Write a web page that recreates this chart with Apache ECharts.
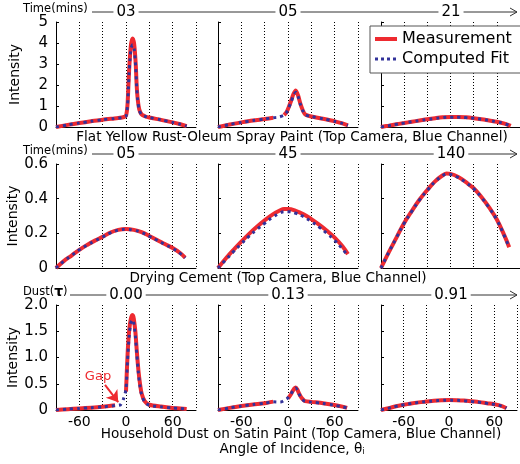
<!DOCTYPE html>
<html><head><meta charset="utf-8">
<script src="https://cdn.jsdelivr.net/npm/echarts@6/dist/echarts.min.js"></script>
<style>html,body{margin:0;padding:0;background:#fff}#c{width:520px;height:464px}</style>
</head><body><div id="c"></div>
<script>
// ---------- DATA ----------
// Row 1: Flat Yellow Rust-Oleum Spray Paint, time 03 / 05 / 21 mins
const angSpray03 = [-90,-75,-60,-45,-30,-15,-5,0,2,3,4,5,6.5,8.5,10.5,12.5,13.7,15,17,20,25,30,45,60,70,78];
const measSpray03 = [0,0.1,0.19,0.27,0.35,0.41,0.45,0.55,1.1,1.9,2.7,3.3,3.95,4.22,3.95,3.0,2.0,1.35,0.85,0.6,0.5,0.45,0.34,0.22,0.13,0.04];
const fitSpray03 = [0,0.1,0.19,0.27,0.35,0.41,0.45,0.52,1.05,1.8,2.6,3.15,3.75,3.92,3.7,2.85,1.95,1.3,0.82,0.58,0.5,0.45,0.34,0.22,0.13,0.04];

const angSpray05 = [-90,-75,-60,-45,-30,-19,-13,-5,-2,1,4,7,10,13,16,19,22,30,45,60,70,77];
const measSpray05 = [0,0.12,0.22,0.31,0.38,0.44,null,0.57,0.7,0.95,1.25,1.57,1.74,1.5,1.1,0.8,0.6,0.5,0.39,0.27,0.17,0.08];
const fitSpray05 = [0,0.12,0.22,0.31,0.38,0.44,0.46,0.56,0.68,0.92,1.2,1.5,1.66,1.45,1.07,0.78,0.59,0.5,0.39,0.27,0.17,0.08];

const angSpray21 = [-90,-80,-70,-60,-50,-40,-30,-20,-10,0,10,20,30,40,50,60,70,78];
const measSpray21 = [0,0.065,0.13,0.19,0.25,0.31,0.37,0.42,0.46,0.48,0.48,0.46,0.42,0.37,0.31,0.25,0.16,0.05];
const fitSpray21 = [0,0.065,0.13,0.19,0.25,0.31,0.36,0.41,0.45,0.47,0.47,0.45,0.42,0.37,0.31,0.25,0.16,0.05];

// Row 2: Drying Cement, time 05 / 45 / 140 mins
const angCement05 = [-90,-80,-70,-60,-50,-40,-30,-20,-10,0,10,20,30,40,50,60,70,76];
const measCement05 = [0,0.04,0.072,0.105,0.133,0.158,0.18,0.205,0.22,0.225,0.22,0.207,0.185,0.162,0.138,0.115,0.085,0.06];
const fitCement05 = [0,0.04,0.072,0.105,0.132,0.157,0.179,0.203,0.218,0.223,0.218,0.205,0.183,0.16,0.136,0.113,0.083,0.058];

const angCement45 = [-90,-80,-70,-60,-50,-40,-30,-20,-10,-5,0,10,20,30,40,50,60,70,77];
const measCement45 = [0,0.055,0.105,0.152,0.197,0.238,0.275,0.308,0.333,0.34,0.34,0.33,0.31,0.282,0.25,0.215,0.175,0.125,0.08];
const fitCement45 = [0,0.047,0.095,0.14,0.184,0.223,0.258,0.292,0.318,0.325,0.325,0.316,0.296,0.268,0.236,0.2,0.16,0.11,0.07];

const angCement140 = [-90,-80,-70,-60,-50,-40,-30,-20,-10,-5,0,10,20,30,40,50,60,70,76];
const measCement140 = [0,0.09,0.175,0.26,0.33,0.395,0.45,0.5,0.535,0.545,0.543,0.525,0.495,0.46,0.41,0.35,0.28,0.185,0.12];
const fitCement140 = [0,0.09,0.175,0.258,0.328,0.393,0.448,0.498,0.533,0.542,0.54,0.522,0.493,0.458,0.408,0.348,0.278,0.183,0.118];

// Row 3: Household Dust on Satin Paint, dust tau 0.00 / 0.13 / 0.91
const angDust000 = [-90,-75,-60,-45,-30,-14,-7,-3,0,2,4,6,8,9,10,12,14,16,18,20,24,30,45,60,70,78];
const measDust000 = [0,0.015,0.03,0.045,0.06,0.09,null,null,0.35,1.05,1.5,1.72,1.81,1.8,1.74,1.5,1.1,0.75,0.5,0.32,0.17,0.1,0.065,0.04,0.03,0.02];
const fitDust000 = [0,0.015,0.03,0.045,0.06,0.085,0.1,0.22,0.4,0.95,1.4,1.65,1.72,1.71,1.66,1.42,1.05,0.7,0.45,0.3,0.15,0.09,0.06,0.04,0.03,0.02];

const angDust013 = [-90,-75,-60,-45,-30,-19,-10,-3,0,3,6,8,10,12,14,17,20,22,30,45,58,70,76];
const measDust013 = [0,0.04,0.075,0.105,0.13,0.16,null,null,0.22,0.28,0.36,0.41,0.43,0.39,0.32,0.24,0.19,0.17,0.155,0.13,0.1,0.065,0.04];
const fitDust013 = [0,0.04,0.075,0.105,0.13,0.155,0.15,0.2,0.23,0.29,0.36,0.4,0.42,0.38,0.31,0.23,0.18,0.165,0.15,0.125,0.095,0.06,0.04];

const angDust091 = [-90,-80,-70,-60,-50,-40,-30,-20,-10,0,10,20,30,40,50,60,70,76];
const measDust091 = [0,0.035,0.07,0.1,0.125,0.145,0.16,0.175,0.185,0.19,0.188,0.18,0.165,0.15,0.13,0.11,0.075,0.035];
const fitDust091 = [0,0.035,0.07,0.1,0.124,0.144,0.159,0.173,0.183,0.188,0.186,0.178,0.163,0.148,0.128,0.108,0.073,0.035];

// Tick labels
const yTickLabelsSpray = ['0','1','2','3','4','5'];
const yTickLabelsCement = ['0','0.2','0.4','0.6'];
const yTickLabelsDust = ['0','0.5','1.0','1.5','2.0'];
const xTickLabels = [-60, 0, 60];

// Header labels
const timeLabelsSpray = ['03','05','21'];
const timeLabelsCement = ['05','45','140'];
const dustLabels = ['0.00','0.13','0.91'];
const rowHeaderNames = ['Time(mins)','Time(mins)','Dust(τ)'];
const rowSubtitles = [
  'Flat Yellow Rust-Oleum Spray Paint (Top Camera, Blue Channel)',
  'Drying Cement (Top Camera, Blue Channel)',
  'Household Dust on Satin Paint (Top Camera, Blue Channel)'
];
const xAxisTitle = 'Angle of Incidence, θ';
const xAxisTitleSub = 'i';
const seriesNames = ['Measurement','Computed Fit'];
const gapText = 'Gap';
const gapArrowFrom = [-27, 0.48];
const gapArrowTo = [-10, 0.15];
const gapTextAt = [-36, 0.64];

// ---------- LAYOUT ----------
const FONT = 'DejaVu Sans';
const RED = '#ee2a30', BLUE = '#32329a';
const colLeft = [56, 218, 381], colW = 140;
const rowTop = [22, 164, 305], rowH = [105, 104, 105];
const yMaxes = [5, 0.6, 2.0], yInts = [1, 0.2, 0.5];
const yLabelSets = [yTickLabelsSpray, yTickLabelsCement, yTickLabelsDust];
const headerY = [12, 154, 295];
const headerStart = [92, 92, 70];
const headerLabelSets = [timeLabelsSpray, timeLabelsCement, dustLabels];

const panels = [
  [angSpray03, measSpray03, fitSpray03, 0.25],
  [angSpray05, measSpray05, fitSpray05, 0.25],
  [angSpray21, measSpray21, fitSpray21, 0.4],
  [angCement05, measCement05, fitCement05, 0.4],
  [angCement45, measCement45, fitCement45, 0.4],
  [angCement140, measCement140, fitCement140, 0.4],
  [angDust000, measDust000, fitDust000, 0.25],
  [angDust013, measDust013, fitDust013, 0.25],
  [angDust091, measDust091, fitDust091, 0.4]
];

const grids = [], xAxes = [], yAxes = [], series = [];
panels.forEach((p, i) => {
  const r = Math.floor(i / 3), c = i % 3;
  grids.push({left: colLeft[c], top: rowTop[r], width: colW, height: rowH[r], containLabel: false});
  xAxes.push({
    type: 'value', gridIndex: i, min: -90, max: 90, interval: 30,
    axisLine: {show: true, onZero: false, lineStyle: {color: '#000', width: 1}},
    axisTick: {show: false},
    axisLabel: {show: r === 2, margin: 5, fontSize: 14, fontFamily: FONT, color: '#000',
      formatter: v => xTickLabels.includes(v) ? String(v) : ''},
    splitLine: {show: true, lineStyle: {color: '#000', width: 1, type: [1, 2]}}
  });
  const labels = yLabelSets[r];
  yAxes.push({
    type: 'value', gridIndex: i, min: 0, max: yMaxes[r], interval: yInts[r],
    name: c === 0 ? 'Intensity' : '', nameLocation: 'middle', nameGap: 34,
    nameTextStyle: {fontSize: 14, fontFamily: FONT, color: '#000'},
    axisLine: {show: true, onZero: false, lineStyle: {color: '#000', width: 1}},
    axisTick: {show: true, inside: true, length: 3, lineStyle: {color: '#000'}},
    axisLabel: {show: c === 0, margin: 8, fontSize: 15, fontFamily: FONT, color: '#000',
      formatter: (v, idx) => labels[idx] !== undefined ? labels[idx] : ''},
    splitLine: {show: false}
  });
  const meas = {
    type: 'line', name: seriesNames[0], xAxisIndex: i, yAxisIndex: i,
    data: p[0].map((a, k) => [a, p[1][k]]),
    symbol: 'none', showSymbol: false, smooth: p[3], connectNulls: false,
    lineStyle: {color: RED, width: 4}, itemStyle: {color: RED}, z: 2
  };
  if (i === 6) {
    meas.markLine = {
      silent: true, symbol: ['none', 'arrow'], symbolSize: 11, animation: false,
      lineStyle: {color: RED, width: 2, type: 'solid'}, label: {show: false},
      data: [[{coord: gapArrowFrom}, {coord: gapArrowTo}]]
    };
    meas.markPoint = {
      silent: true, symbol: 'rect', symbolSize: 1, animation: false,
      itemStyle: {color: 'rgba(0,0,0,0)'},
      label: {show: true, position: 'inside', formatter: gapText, color: RED, fontSize: 13, fontFamily: FONT},
      data: [{coord: gapTextAt}]
    };
  }
  series.push(meas);
  series.push({
    type: 'line', name: seriesNames[1], xAxisIndex: i, yAxisIndex: i,
    data: p[0].map((a, k) => [a, p[2][k]]),
    symbol: 'none', showSymbol: false, smooth: p[3], connectNulls: false,
    lineStyle: {color: BLUE, width: 3, type: [3, 4]}, itemStyle: {color: BLUE}, z: 3
  });
});

const graphic = [];
for (let r = 0; r < 3; r++) {
  const hy = headerY[r];
  graphic.push({type: 'line', silent: true, shape: {x1: headerStart[r], y1: hy, x2: 517, y2: hy},
    style: {stroke: '#333', lineWidth: 1}});
  graphic.push({type: 'polyline', silent: true, shape: {points: [[510, hy - 4], [517, hy], [510, hy + 4]]},
    style: {stroke: '#333', fill: null, lineWidth: 1}});
  const nm = rowHeaderNames[r];
  const isDust = nm.indexOf('τ') >= 0;
  graphic.push({type: 'text', silent: true, x: 23, y: hy - 3,
    style: {
      text: isDust ? '{a|Dust(}{b|τ}{a|)}' : nm,
      font: '11.5px ' + FONT, fill: '#000', textVerticalAlign: 'middle', verticalAlign: 'middle',
      rich: {a: {fontSize: 11.5, fontFamily: FONT, fill: '#000'}, b: {fontSize: 14, fontWeight: 'bold', fontFamily: FONT, fill: '#000'}}
    }});
  headerLabelSets[r].forEach((lab, c) => {
    graphic.push({type: 'text', silent: true, x: colLeft[c] + colW / 2, y: hy, z: 10,
      style: {text: lab, font: '15px ' + FONT, fill: '#000',
        textAlign: 'center', align: 'center', textVerticalAlign: 'middle', verticalAlign: 'middle',
        backgroundColor: '#fff', padding: [0, 3]}});
  });
}
const subPos = [[292, 137], [278, 278], [301, 434]];
rowSubtitles.forEach((t, r) => {
  graphic.push({type: 'text', silent: true, x: subPos[r][0], y: subPos[r][1],
    style: {text: t, font: '13.6px ' + FONT, fill: '#000', textAlign: 'center', align: 'center',
      textVerticalAlign: 'middle', verticalAlign: 'middle'}});
});
graphic.push({type: 'text', silent: true, x: 292, y: 449,
  style: {text: '{a|' + xAxisTitle + '}{s|' + xAxisTitleSub + '}', textAlign: 'center', align: 'center',
    textVerticalAlign: 'middle', verticalAlign: 'middle',
    rich: {a: {fontSize: 13.6, fontFamily: FONT, fill: '#000'}, s: {fontSize: 8, fontFamily: FONT, fill: '#000', padding: [6, 0, 0, 0]}}}});

const chart = echarts.init(document.getElementById('c'), null, {renderer: 'canvas'});
chart.setOption({
  animation: false,
  backgroundColor: '#fff',
  grid: grids, xAxis: xAxes, yAxis: yAxes, series: series,
  legend: {
    data: [
      {name: seriesNames[0], lineStyle: {color: RED, width: 4}},
      {name: seriesNames[1], lineStyle: {color: BLUE, width: 3, type: [3, 3]}}
    ],
    orient: 'vertical', left: 370, top: 26,
    backgroundColor: '#fff', borderColor: '#555', borderWidth: 1,
    padding: [5, 12, 6, 3], itemGap: 4, itemWidth: 22, itemHeight: 12,
    itemStyle: {opacity: 0},
    textStyle: {fontSize: 16, fontFamily: FONT, color: '#000'}, selectedMode: false, z: 20
  },
  graphic: graphic
});
</script>
</body></html>
